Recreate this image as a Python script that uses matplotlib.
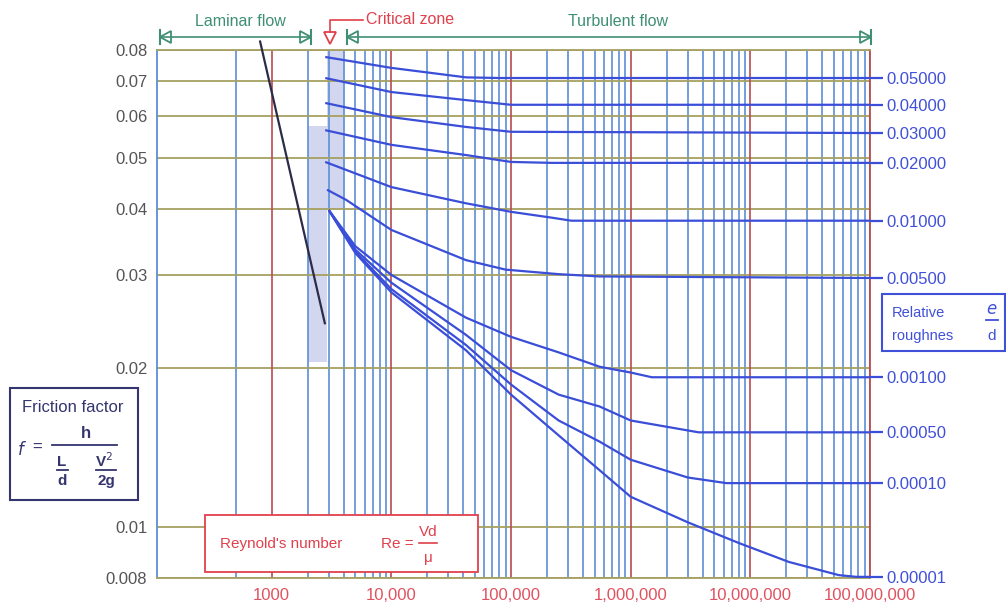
import matplotlib
matplotlib.use("Agg")
import matplotlib.pyplot as plt
from matplotlib.patches import Rectangle, Polygon
from matplotlib.ticker import NullLocator, FixedLocator

plt.rcParams['font.family'] = ['Liberation Sans', 'DejaVu Sans']

# ---------------- data ----------------
roughness_labels = ["0.05000", "0.04000", "0.03000", "0.02000", "0.01000",
                    "0.00500", "0.00100", "0.00050", "0.00010", "0.00001"]

re_050 = [2800, 10000, 42000, 80000, 1e8]
f_050 = [0.0776, 0.0740, 0.0710, 0.0708, 0.0708]
re_040 = [2800, 10000, 42000, 100000, 1e8]
f_040 = [0.0708, 0.0666, 0.0643, 0.0630, 0.0630]
re_030 = [2800, 10000, 42000, 100000, 1e8]
f_030 = [0.0635, 0.0597, 0.0572, 0.0560, 0.0557]
re_020 = [2800, 10000, 42000, 100000, 220000, 1e8]
f_020 = [0.0564, 0.0529, 0.0506, 0.0491, 0.0489, 0.0489]
re_010 = [2800, 10000, 42000, 100000, 220000, 320000, 1e8]
f_010 = [0.0491, 0.0440, 0.0410, 0.0395, 0.0385, 0.0380, 0.0380]
re_005 = [2900, 4200, 10000, 42000, 90000, 250000, 550000, 1e8]
f_005 = [0.0435, 0.0416, 0.0365, 0.0320, 0.0307, 0.0301, 0.0298, 0.0296]
re_001 = [3000, 5000, 10000, 42000, 100000, 250000, 550000, 1000000, 1500000, 1e8]
f_001 = [0.0398, 0.0340, 0.0300, 0.0249, 0.0229, 0.0214, 0.0201, 0.0196, 0.0192, 0.0192]
re_0005 = [3000, 5000, 10000, 42000, 100000, 250000, 550000, 1000000, 3700000, 1e8]
f_0005 = [0.0398, 0.0335, 0.0290, 0.0231, 0.0198, 0.0178, 0.0169, 0.0159, 0.0151, 0.0151]
re_0001 = [3000, 5000, 10000, 42000, 100000, 250000, 550000, 1000000, 3000000, 6300000, 1e8]
f_0001 = [0.0398, 0.0332, 0.0282, 0.0221, 0.0186, 0.0159, 0.0145, 0.0134, 0.0124, 0.0121, 0.0121]
re_00001 = [3000, 5000, 10000, 42000, 100000, 250000, 550000, 1000000, 3000000, 8000000,
            21000000, 55000000, 77000000, 1e8]
f_00001 = [0.0398, 0.0330, 0.0278, 0.0216, 0.0178, 0.0149, 0.0128, 0.0114, 0.0102, 0.00932,
           0.00858, 0.00810, 0.00804, 0.00804]

laminar_re = [800, 2780]
laminar_f = [0.083, 0.0243]

f_ticks = [0.008, 0.01, 0.02, 0.03, 0.04, 0.05, 0.06, 0.07, 0.08]
f_tick_labels = ["0.008", "0.01", "0.02", "0.03", "0.04", "0.05", "0.06", "0.07", "0.08"]
re_ticks = [1e3, 1e4, 1e5, 1e6, 1e7, 1e8]
re_tick_labels = ["1000", "10,000", "100,000", "1,000,000", "10,000,000", "100,000,000"]

curves = [(re_050, f_050), (re_040, f_040), (re_030, f_030), (re_020, f_020),
          (re_010, f_010), (re_005, f_005), (re_001, f_001), (re_0005, f_0005),
          (re_0001, f_0001), (re_00001, f_00001)]

# ---------------- colours ----------------
C_CURVE = "#3a4ed8"
C_VGRID = "#5d8ed6"
C_VMAJ = "#b84c50"
C_HGRID = "#a6a062"
C_GREEN = "#3f8f73"
C_RED = "#e0404c"
C_NAVY = "#34346e"

W, H = 1006, 608
fig = plt.figure(figsize=(W / 100, H / 100), dpi=100)
fig.patch.set_facecolor("white")
ax = fig.add_axes([157 / W, 30 / H, 713 / W, 528 / H])
ax.set_xscale("log")
ax.set_yscale("log")
ax.set_xlim(110, 1e8)
ax.set_ylim(0.008, 0.08)

# vertical grid
minor_re = [500] + [k * 10 ** n for n in range(3, 8) for k in range(2, 10)]
for r in minor_re:
    ax.axvline(r, color=C_VGRID, lw=1.2, zorder=1)
for r in re_ticks:
    ax.axvline(r, color=C_VMAJ, lw=1.2, zorder=1.2)
for fv in f_ticks:
    ax.axhline(fv, color=C_HGRID, lw=1.3, zorder=1.1)

# critical zone shading
ax.add_patch(Rectangle((2000, 0.0205), 900, 0.0575 - 0.0205, facecolor="#d3d6ef",
                       edgecolor="none", zorder=0.5))
ax.add_patch(Rectangle((2900, 0.040), 1100, 0.08 - 0.040, facecolor="#d3d6ef",
                       edgecolor="none", zorder=0.5))

for re_v, f_v in curves:
    ax.plot(re_v, f_v, color=C_CURVE, lw=1.6, zorder=3, solid_capstyle="butt")

ax.plot(laminar_re, laminar_f, color="#2c2c48", lw=1.6, zorder=3, clip_on=False)

for side, col in [("left", C_VGRID), ("right", C_VMAJ), ("top", C_HGRID), ("bottom", C_HGRID)]:
    ax.spines[side].set_color(col)
    ax.spines[side].set_linewidth(1.3)

ax.xaxis.set_major_locator(FixedLocator(re_ticks))
ax.xaxis.set_minor_locator(NullLocator())
ax.set_xticklabels(re_tick_labels)
ax.yaxis.set_major_locator(FixedLocator(f_ticks))
ax.yaxis.set_minor_locator(NullLocator())
ax.set_yticklabels(f_tick_labels)
ax.tick_params(axis="x", length=0, pad=7, labelsize=12, labelcolor="#e05260")
ax.tick_params(axis="y", length=0, pad=7, labelsize=12, labelcolor="#555555")

# right-hand roughness labels
ax2 = ax.twinx()
ax2.set_yscale("log")
ax2.set_ylim(ax.get_ylim())
ax2.yaxis.set_major_locator(FixedLocator([c[1][-1] for c in curves]))
ax2.yaxis.set_minor_locator(NullLocator())
ax2.set_yticklabels(roughness_labels)
ax2.tick_params(axis="y", length=9, width=1.6, color=C_CURVE, labelcolor="#4050d8",
                labelsize=12, pad=3)
for s in ax2.spines.values():
    s.set_visible(False)

# ---------------- overlay for annotations (pixel coordinates) ----------------
ov = fig.add_axes([0, 0, 1, 1], zorder=5)
ov.set_xlim(0, W)
ov.set_ylim(H, 0)
ov.axis("off")
ov.patch.set_visible(False)

def tri(pts, color):
    ov.add_patch(Polygon(pts, closed=True, facecolor="white", edgecolor=color, lw=1.3))

# laminar flow
ov.plot([160, 311], [37, 37], color=C_GREEN, lw=1.2)
ov.plot([160, 160], [30, 44], color=C_GREEN, lw=1.5)
ov.plot([311, 311], [30, 44], color=C_GREEN, lw=1.5)
tri([(160, 37), (171, 31), (171, 43)], C_GREEN)
tri([(311, 37), (300, 31), (300, 43)], C_GREEN)
ov.text(240, 22, "Laminar flow", color=C_GREEN, fontsize=11.5, ha="center", va="center")

# turbulent flow
ov.plot([347, 871], [37, 37], color=C_GREEN, lw=1.2)
ov.plot([347, 347], [30, 44], color=C_GREEN, lw=1.5)
ov.plot([871, 871], [30, 44], color=C_GREEN, lw=1.5)
tri([(347, 37), (358, 31), (358, 43)], C_GREEN)
tri([(871, 37), (860, 31), (860, 43)], C_GREEN)
ov.text(618, 22, "Turbulent flow", color=C_GREEN, fontsize=11.5, ha="center", va="center")

# critical zone
ov.plot([363, 330, 330], [20, 20, 32], color=C_RED, lw=1.2)
tri([(324, 32), (336, 32), (330, 44)], C_RED)
ov.text(366, 19, "Critical zone", color=C_RED, fontsize=11.5, ha="left", va="center")

# friction factor box
ov.add_patch(Rectangle((10, 388), 128, 112, facecolor="white", edgecolor=C_NAVY, lw=1.5))
ov.text(73, 407, "Friction factor", color=C_NAVY, fontsize=12, ha="center", va="center")
ov.text(22, 449, "$f$", color=C_NAVY, fontsize=12, ha="center", va="center")
ov.text(37, 447, "=", color=C_NAVY, fontsize=12, ha="center", va="center")
ov.plot([52, 117], [445, 445], color=C_NAVY, lw=1.3)
ov.text(86, 433, "h", color=C_NAVY, fontsize=12, ha="center", va="center", fontweight="bold")
ov.text(62, 462, "L", color=C_NAVY, fontsize=11, ha="center", va="center", fontweight="bold")
ov.plot([57, 68], [470, 470], color=C_NAVY, lw=1.3)
ov.text(62, 481, "d", color=C_NAVY, fontsize=11, ha="center", va="center", fontweight="bold")
ov.text(104, 461, "V$^{2}$", color=C_NAVY, fontsize=11, ha="center", va="center", fontweight="bold")
ov.plot([96, 116], [470, 470], color=C_NAVY, lw=1.3)
ov.text(106, 481, "2g", color=C_NAVY, fontsize=11, ha="center", va="center", fontweight="bold")

# Reynolds box
ov.add_patch(Rectangle((205, 515), 273, 57, facecolor="white", edgecolor=C_RED, lw=1.3))
ov.text(220, 544, "Reynold's number", color=C_RED, fontsize=11, ha="left", va="center")
ov.text(381, 544, "Re =", color=C_RED, fontsize=11, ha="left", va="center")
ov.text(428, 532, "Vd", color=C_RED, fontsize=11, ha="center", va="center")
ov.plot([419, 437], [543, 543], color=C_RED, lw=1.2)
ov.text(428, 558, "\u03bc", color=C_RED, fontsize=11, ha="center", va="center")

# relative roughness box
ov.add_patch(Rectangle((882, 294), 123, 57, facecolor="white", edgecolor="#4050d8", lw=1.5))
ov.text(892, 313, "Relative", color="#4050d8", fontsize=10.5, ha="left", va="center")
ov.text(892, 336, "roughnes", color="#4050d8", fontsize=10.5, ha="left", va="center")
ov.text(992, 309, "$e$", color="#4050d8", fontsize=12, ha="center", va="center")
ov.plot([986, 998], [320, 320], color="#4050d8", lw=1.3)
ov.text(992, 336, "d", color="#4050d8", fontsize=11, ha="center", va="center")

fig.savefig("out.png", dpi=100, facecolor="white")
